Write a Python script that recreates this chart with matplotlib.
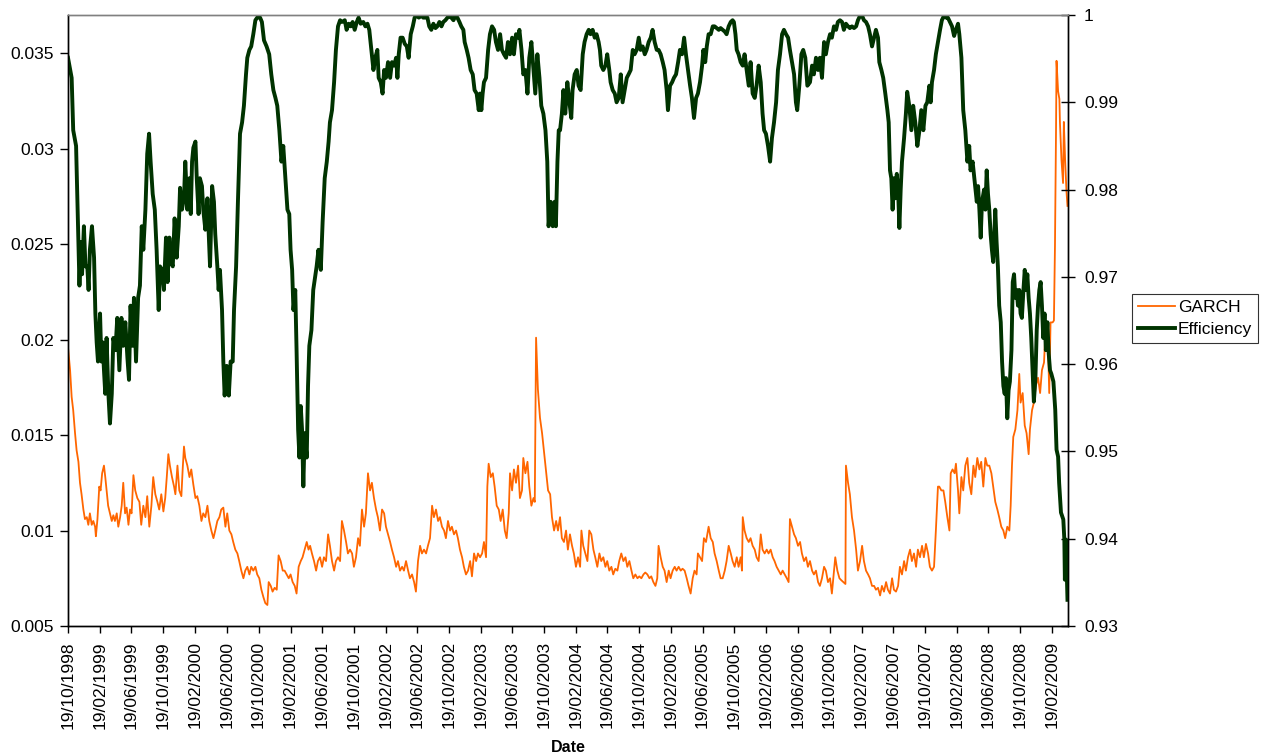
import pandas as pd
import matplotlib
matplotlib.use("Agg")
import matplotlib.pyplot as plt
import matplotlib.dates as mdates
from matplotlib.ticker import FuncFormatter, MultipleLocator

plt.rcParams["font.family"] = ["Liberation Sans", "DejaVu Sans"]

START = pd.Timestamp("1998-10-19")

# efficiency series (right axis), days after 19/10/1998
eff_days = [
    0, 14, 20, 31, 36, 44, 49, 54, 61, 67, 74, 79, 84, 92, 100, 105, 110, 115, 123, 128,
    133, 138, 143, 148, 155, 161, 168, 174, 182, 189, 197, 205, 212, 220, 228, 234, 240, 248, 253, 261,
    269, 276, 283, 289, 297, 304, 311, 317, 325, 333, 340, 348, 353, 361, 368, 376, 382, 389, 395, 402,
    409, 417, 425, 430, 437, 445, 450, 458, 466, 471, 476, 481, 489, 494, 501, 506, 514, 519, 527, 535,
    540, 545, 553, 560, 565, 573, 578, 583, 591, 596, 601, 609, 617, 624, 632, 637, 645, 652, 660, 668,
    675, 683, 688, 696, 703, 711, 719, 726, 737, 744, 752, 762, 772, 780, 788, 796, 803, 811, 819, 826,
    834, 842, 849, 854, 860, 865, 872, 877, 883, 888, 893, 898, 903, 908, 916, 921, 926, 934,
    941, 954, 961, 970, 977, 985, 993, 1000, 1005, 1013, 1021, 1028, 1036, 1044, 1051, 1062, 1069, 1077, 1085, 1092,
    1100, 1108, 1115, 1123, 1133, 1141, 1149, 1156, 1164, 1172, 1179, 1187, 1192, 1200, 1207, 1213, 1220, 1228, 1236, 1243,
    1251, 1259, 1264, 1269, 1276, 1284, 1292, 1300, 1307, 1315, 1323, 1330, 1338, 1346, 1356, 1363, 1371, 1379, 1386, 1394,
    1402, 1410, 1417, 1425, 1433, 1440, 1448, 1456, 1463, 1471, 1479, 1486, 1494, 1502, 1509, 1517, 1522, 1530, 1537, 1545,
    1553, 1560, 1568, 1576, 1581, 1586, 1591, 1596, 1604, 1612, 1619, 1627, 1635, 1642, 1650, 1658, 1665, 1673, 1681, 1688,
    1696, 1704, 1711, 1719, 1727, 1732, 1740, 1747, 1755, 1763, 1770, 1778, 1786, 1793, 1801, 1809, 1816, 1824, 1832, 1839,
    1844, 1852, 1860, 1867, 1872, 1878, 1883,
    1888, 1895, 1901, 1908, 1916, 1924, 1931, 1936, 1944, 1952, 1959, 1967, 1975, 1982, 1990, 1998, 2005, 2013, 2021, 2028,
    2036, 2041, 2046, 2054, 2062, 2069, 2077, 2082, 2090, 2098, 2105, 2113, 2121, 2128, 2136, 2144, 2151, 2159, 2167, 2174,
    2182, 2190, 2197, 2205, 2213, 2220, 2228, 2236, 2243, 2251, 2259, 2266, 2274, 2282, 2289, 2297, 2302, 2310, 2318, 2325,
    2333, 2341, 2348, 2356, 2364, 2371, 2379, 2387, 2394, 2402, 2410, 2417, 2425, 2433, 2438, 2445, 2451, 2458, 2466, 2474,
    2481, 2489, 2497, 2504, 2512, 2520, 2527, 2535, 2543, 2550, 2555, 2561, 2566, 2573, 2581, 2589, 2596, 2604, 2612, 2619,
    2627, 2635, 2642, 2650, 2658, 2665, 2671, 2678, 2686, 2694, 2701, 2709, 2717, 2724, 2732, 2740, 2747, 2755, 2763, 2770,
    2778, 2786, 2793, 2798, 2806, 2814, 2821, 2829, 2837,
    2847, 2855, 2862, 2870, 2878, 2885, 2893, 2901, 2908, 2916, 2924, 2931, 2939, 2947, 2954, 2962, 2970, 2977, 2985, 2993,
    3000, 3008, 3016, 3024, 3031, 3039, 3047, 3054, 3062, 3070, 3077, 3085, 3093, 3100, 3108, 3113, 3121, 3128, 3136, 3144,
    3149, 3154, 3159, 3164, 3169, 3174, 3180, 3185, 3190, 3195, 3200, 3208, 3215, 3220, 3228, 3236, 3243, 3251, 3259, 3267,
    3274, 3282, 3290, 3297, 3305, 3310, 3315, 3323, 3330, 3338, 3346, 3353, 3361, 3369, 3376, 3384, 3392, 3400, 3407, 3415,
    3420, 3428, 3435, 3443, 3451, 3458, 3463, 3471, 3479, 3487, 3492, 3497, 3502, 3507, 3515, 3520, 3525, 3530, 3535, 3540,
    3545, 3550, 3558, 3563, 3568, 3573, 3579, 3584, 3589, 3594, 3599, 3604, 3609, 3614, 3620, 3625, 3630, 3635, 3640, 3645,
    3650, 3655, 3660, 3666, 3671, 3676, 3681, 3686, 3691, 3696, 3701, 3706, 3712, 3717, 3722, 3727, 3732, 3737, 3742, 3747,
    3752, 3758, 3763, 3768, 3773, 3781, 3788, 3793, 3799, 3803, 3810, 3819, 3823, 3825, 3829, 3835,
]
eff_vals = [
    0.9951, 0.9928, 0.9868, 0.9850, 0.9790, 0.9690, 0.9740, 0.9703, 0.9758, 0.9712, 0.9712, 0.9685, 0.9731, 0.9758, 0.9722, 0.9658, 0.9625, 0.9603, 0.9658, 0.9603,
    0.9625, 0.9593, 0.9566, 0.9630, 0.9566, 0.9532, 0.9566, 0.9630, 0.9616, 0.9653, 0.9593, 0.9653, 0.9621, 0.9648, 0.9607, 0.9582, 0.9667, 0.9621, 0.9676, 0.9603,
    0.9676, 0.9690, 0.9758, 0.9731, 0.9777, 0.9841, 0.9864, 0.9832, 0.9795, 0.9777, 0.9731, 0.9662, 0.9712, 0.9708, 0.9685, 0.9745, 0.9694, 0.9745, 0.9717, 0.9712,
    0.9767, 0.9722, 0.9758, 0.9802, 0.9777, 0.9790, 0.9832, 0.9777, 0.9813, 0.9772, 0.9832, 0.9848, 0.9855, 0.9813, 0.9772, 0.9813, 0.9804, 0.9777, 0.9754, 0.9790,
    0.9749, 0.9712, 0.9804, 0.9786, 0.9749, 0.9712, 0.9685, 0.9708, 0.9662, 0.9603, 0.9564, 0.9598, 0.9564, 0.9603, 0.9603, 0.9662, 0.9712, 0.9786, 0.9864, 0.9877,
    0.9896, 0.9932, 0.9951, 0.9960, 0.9964, 0.9978, 0.9994, 0.9997, 0.9997, 0.9992, 0.9971, 0.9964, 0.9955, 0.9932, 0.9914, 0.9905, 0.9896, 0.9868, 0.9832, 0.9850,
    0.9813, 0.9777, 0.9772, 0.9731, 0.9708, 0.9662, 0.9685, 0.9616, 0.9525, 0.9493, 0.9552, 0.9525, 0.9460, 0.9521, 0.9493, 0.9575, 0.9621, 0.9639,
    0.9685, 0.9712, 0.9731, 0.9708, 0.9763, 0.9813, 0.9832, 0.9855, 0.9877, 0.9891, 0.9923, 0.9960, 0.9987, 0.9994, 0.9992, 0.9994, 0.9983, 0.9990, 0.9987, 0.9992,
    0.9983, 0.9992, 0.9997, 0.9990, 0.9992, 0.9987, 0.9990, 0.9983, 0.9960, 0.9937, 0.9951, 0.9960, 0.9928, 0.9923, 0.9910, 0.9937, 0.9928, 0.9946, 0.9928, 0.9946,
    0.9942, 0.9951, 0.9928, 0.9955, 0.9974, 0.9974, 0.9967, 0.9964, 0.9951, 0.9978, 0.9987, 0.9997, 0.9999, 0.9997, 0.9999, 0.9997, 0.9997, 0.9997, 0.9987, 0.9983,
    0.9990, 0.9985, 0.9987, 0.9992, 0.9987, 0.9992, 0.9994, 0.9997, 0.9999, 0.9997, 0.9994, 0.9999, 0.9997, 0.9992, 0.9987, 0.9983, 0.9969, 0.9960, 0.9951, 0.9937,
    0.9932, 0.9914, 0.9910, 0.9891, 0.9910, 0.9891, 0.9910, 0.9923, 0.9928, 0.9960, 0.9978, 0.9987, 0.9983, 0.9969, 0.9960, 0.9978, 0.9960, 0.9955, 0.9951, 0.9969,
    0.9955, 0.9974, 0.9955, 0.9978, 0.9974, 0.9983, 0.9960, 0.9932, 0.9937, 0.9910, 0.9951, 0.9969, 0.9937, 0.9910, 0.9955, 0.9928, 0.9896, 0.9887, 0.9868, 0.9832,
    0.9758, 0.9786, 0.9758, 0.9786, 0.9758, 0.9832, 0.9868,
    0.9868, 0.9887, 0.9914, 0.9887, 0.9923, 0.9900, 0.9882, 0.9914, 0.9932, 0.9937, 0.9919, 0.9914, 0.9955, 0.9969, 0.9978, 0.9983, 0.9978, 0.9983, 0.9974, 0.9978,
    0.9969, 0.9960, 0.9942, 0.9937, 0.9942, 0.9955, 0.9937, 0.9923, 0.9914, 0.9910, 0.9900, 0.9905, 0.9932, 0.9900, 0.9914, 0.9928, 0.9932, 0.9937, 0.9960, 0.9955,
    0.9960, 0.9974, 0.9960, 0.9964, 0.9955, 0.9960, 0.9969, 0.9974, 0.9983, 0.9969, 0.9960, 0.9960, 0.9955, 0.9946, 0.9937, 0.9914, 0.9891, 0.9919, 0.9923, 0.9928,
    0.9932, 0.9946, 0.9960, 0.9955, 0.9974, 0.9955, 0.9937, 0.9919, 0.9905, 0.9882, 0.9905, 0.9910, 0.9923, 0.9942, 0.9960, 0.9946, 0.9964, 0.9978, 0.9978, 0.9987,
    0.9987, 0.9985, 0.9983, 0.9985, 0.9983, 0.9981, 0.9978, 0.9987, 0.9992, 0.9994, 0.9992, 0.9978, 0.9960, 0.9955, 0.9946, 0.9942, 0.9955, 0.9937, 0.9919, 0.9946,
    0.9910, 0.9905, 0.9919, 0.9942, 0.9923, 0.9887, 0.9868, 0.9864, 0.9850, 0.9832, 0.9859, 0.9877, 0.9900, 0.9937, 0.9955, 0.9978, 0.9983, 0.9978, 0.9974, 0.9960,
    0.9946, 0.9932, 0.9900, 0.9891, 0.9919, 0.9955, 0.9960, 0.9951, 0.9919,
    0.9923, 0.9942, 0.9932, 0.9951, 0.9937, 0.9951, 0.9928, 0.9969, 0.9955, 0.9969, 0.9978, 0.9974, 0.9987, 0.9983, 0.9992, 0.9994, 0.9992, 0.9983, 0.9990, 0.9987,
    0.9985, 0.9987, 0.9985, 0.9987, 0.9994, 0.9999, 0.9999, 0.9994, 0.9992, 0.9987, 0.9978, 0.9964, 0.9974, 0.9983, 0.9974, 0.9946, 0.9937, 0.9928, 0.9910, 0.9891,
    0.9877, 0.9822, 0.9813, 0.9777, 0.9813, 0.9790, 0.9818, 0.9800, 0.9756, 0.9800, 0.9832, 0.9859, 0.9887, 0.9912, 0.9896, 0.9868, 0.9896, 0.9877, 0.9850, 0.9868,
    0.9891, 0.9868, 0.9896, 0.9900, 0.9919, 0.9900, 0.9923, 0.9937, 0.9955, 0.9969, 0.9983, 0.9994, 0.9999, 0.9997, 0.9997, 0.9992, 0.9987, 0.9976, 0.9983, 0.9990,
    0.9978, 0.9951, 0.9891, 0.9868, 0.9832, 0.9850, 0.9822, 0.9832, 0.9809, 0.9786, 0.9804, 0.9777, 0.9745, 0.9786, 0.9800, 0.9777, 0.9822, 0.9795, 0.9777, 0.9749,
    0.9731, 0.9717, 0.9777, 0.9740, 0.9712, 0.9667, 0.9648, 0.9603, 0.9575, 0.9566, 0.9584, 0.9538, 0.9570, 0.9580, 0.9616, 0.9694, 0.9703, 0.9676, 0.9685, 0.9667,
    0.9685, 0.9658, 0.9653, 0.9685, 0.9708, 0.9685, 0.9703, 0.9676, 0.9658, 0.9630, 0.9593, 0.9557, 0.9584, 0.9639, 0.9667, 0.9685, 0.9694, 0.9667, 0.9630, 0.9658,
    0.9616, 0.9648, 0.9612, 0.9593, 0.9589, 0.9580, 0.9548, 0.9502, 0.9494, 0.9464, 0.9430, 0.9422, 0.9399, 0.9353, 0.9399, 0.9330,
]

# GARCH volatility (left axis), days after 19/10/1998
garch_days = [
    0, 8, 14, 20, 27, 33, 40, 46, 52, 59, 65, 72, 78, 84, 91, 97, 104, 107, 113, 120,
    125, 131, 138, 143, 148, 154, 161, 168, 174, 180, 187, 193, 200, 206, 212, 219, 225, 232, 238, 244,
    251, 258, 266, 274, 281, 289, 297, 304, 312, 320, 327, 335, 343, 350, 358, 366, 373, 379, 385, 391,
    399, 407, 412, 420, 427, 435, 440, 445, 450, 458, 466, 473, 481, 489, 496, 504, 512, 519, 527, 535,
    542, 550, 558, 565, 573, 581, 588, 596, 604, 611, 619, 627, 634, 642, 650, 657, 665, 673, 680, 688,
    696, 703, 711, 719, 726, 734, 742, 750, 757, 765, 770, 778, 785, 793, 801, 808, 816, 824, 831, 839,
    847, 854, 862, 870, 877, 885, 893, 900, 908, 916, 923,
    929, 936, 944, 952, 959, 967, 975, 982, 990, 998, 1005, 1013, 1021, 1028, 1036, 1044, 1051, 1059, 1067, 1074,
    1082, 1090, 1097, 1105, 1113, 1120, 1128, 1136, 1143, 1151, 1159, 1166, 1174, 1182, 1189, 1197, 1205, 1213, 1220, 1228,
    1236, 1243, 1251, 1259, 1266, 1274, 1282, 1289, 1297, 1305, 1312, 1320, 1328, 1335, 1343, 1351, 1358, 1366, 1374, 1381,
    1389, 1397, 1404, 1412, 1420, 1427, 1435, 1443, 1450, 1458, 1466, 1473, 1481, 1489, 1496, 1504, 1512, 1519, 1527, 1535,
    1543, 1550, 1558, 1566, 1573, 1581, 1589, 1596, 1604, 1609, 1614, 1622, 1630, 1637, 1645, 1653, 1660, 1668, 1676, 1683,
    1691, 1696, 1704, 1711, 1719, 1727, 1734, 1742, 1747, 1755, 1763, 1770, 1778, 1786, 1791, 1796, 1803, 1811, 1819, 1826,
    1834, 1842, 1850, 1857, 1865, 1873, 1880,
    1888, 1895, 1903, 1911, 1918, 1926, 1934, 1941, 1949, 1957, 1965, 1970, 1977, 1985, 1993, 2000, 2008, 2016, 2023, 2031,
    2039, 2046, 2054, 2062, 2069, 2077, 2085, 2092, 2100, 2108, 2115, 2123, 2131, 2139, 2146, 2154, 2162, 2169, 2177, 2185,
    2192, 2200, 2208, 2215, 2223, 2231, 2238, 2246, 2254, 2261, 2266, 2274, 2282, 2289, 2297, 2305, 2312, 2320, 2328, 2335,
    2343, 2351, 2358, 2366, 2374, 2381, 2389, 2397, 2404, 2412, 2417, 2425, 2433, 2440, 2448, 2458, 2466, 2474, 2481, 2489,
    2497, 2504, 2512, 2520, 2527, 2535, 2543, 2550, 2558, 2566, 2573, 2581, 2586, 2589, 2596, 2604, 2612, 2619, 2627, 2635,
    2642, 2650, 2658, 2665, 2673, 2681, 2688, 2696, 2704, 2711, 2719, 2727, 2735, 2742, 2750, 2758, 2765, 2770, 2778, 2786,
    2793, 2801, 2809, 2816, 2824, 2832, 2839,
    2847, 2855, 2862, 2870, 2878, 2885, 2893, 2901, 2908, 2916, 2924, 2931, 2939, 2944, 2952, 2960, 2967, 2975, 2983, 2985,
    2993, 3000, 3008, 3016, 3024, 3031, 3039, 3047, 3054, 3062, 3070, 3077, 3085, 3093, 3100, 3108, 3116, 3123, 3131, 3139,
    3146, 3154, 3162, 3169, 3177, 3185, 3192, 3200, 3208, 3215, 3223, 3231, 3238, 3246, 3254, 3261, 3269, 3277, 3284, 3292,
    3300, 3307, 3315, 3323, 3330, 3338, 3343, 3351, 3359, 3366, 3374, 3382, 3387, 3394, 3402, 3407, 3415, 3420, 3428, 3435,
    3443, 3451, 3458, 3466, 3474, 3481, 3489, 3497, 3504, 3512, 3520, 3527, 3535, 3543, 3550, 3558, 3566, 3573, 3581, 3589,
    3596, 3604, 3612, 3617, 3622, 3627, 3635, 3643, 3650, 3655, 3663, 3671, 3678, 3686, 3691, 3699, 3706, 3714, 3722, 3730,
    3737, 3745, 3752, 3760, 3765, 3770, 3778, 3783, 3787, 3791, 3793, 3799, 3804, 3806, 3812, 3818, 3821, 3826, 3831, 3835,
]
garch_vals = [
    0.0196, 0.0184, 0.0170, 0.0163, 0.0151, 0.0142, 0.0136, 0.0125, 0.0119, 0.0111, 0.0106, 0.0107, 0.0103, 0.0109, 0.0103, 0.0105, 0.0102, 0.0097, 0.0106, 0.0123,
    0.0121, 0.0130, 0.0134, 0.0128, 0.0121, 0.0113, 0.0109, 0.0105, 0.0108, 0.0105, 0.0109, 0.0102, 0.0107, 0.0113, 0.0125, 0.0109, 0.0112, 0.0103, 0.0111, 0.0109,
    0.0129, 0.0121, 0.0117, 0.0115, 0.0103, 0.0113, 0.0107, 0.0118, 0.0102, 0.0113, 0.0128, 0.0119, 0.0115, 0.0111, 0.0119, 0.0110, 0.0117, 0.0128, 0.0140, 0.0134,
    0.0128, 0.0123, 0.0119, 0.0134, 0.0121, 0.0118, 0.0132, 0.0144, 0.0138, 0.0134, 0.0128, 0.0132, 0.0124, 0.0117, 0.0118, 0.0113, 0.0105, 0.0109, 0.0107, 0.0113,
    0.0105, 0.0100, 0.0096, 0.0100, 0.0105, 0.0107, 0.0111, 0.0112, 0.0102, 0.0109, 0.0100, 0.0098, 0.0094, 0.0090, 0.0088, 0.0084, 0.0079, 0.0075, 0.0079, 0.0081,
    0.0077, 0.0081, 0.0079, 0.0081, 0.0077, 0.0075, 0.0069, 0.0065, 0.0062, 0.0061, 0.0073, 0.0071, 0.0068, 0.0070, 0.0069, 0.0087, 0.0084, 0.0079, 0.0079, 0.0077,
    0.0075, 0.0077, 0.0073, 0.0071, 0.0067, 0.0081, 0.0084, 0.0086, 0.0090, 0.0094, 0.0090,
    0.0092, 0.0088, 0.0084, 0.0079, 0.0084, 0.0086, 0.0081, 0.0086, 0.0084, 0.0098, 0.0092, 0.0084, 0.0079, 0.0084, 0.0086, 0.0084, 0.0105, 0.0100, 0.0094, 0.0088,
    0.0090, 0.0088, 0.0081, 0.0086, 0.0096, 0.0092, 0.0111, 0.0102, 0.0109, 0.0130, 0.0121, 0.0125, 0.0117, 0.0111, 0.0107, 0.0100, 0.0111, 0.0109, 0.0102, 0.0098,
    0.0094, 0.0090, 0.0086, 0.0081, 0.0084, 0.0079, 0.0081, 0.0079, 0.0084, 0.0079, 0.0075, 0.0077, 0.0073, 0.0068, 0.0084, 0.0092, 0.0088, 0.0090, 0.0088, 0.0092,
    0.0096, 0.0113, 0.0107, 0.0111, 0.0105, 0.0107, 0.0102, 0.0100, 0.0096, 0.0105, 0.0100, 0.0102, 0.0098, 0.0100, 0.0096, 0.0090, 0.0086, 0.0081, 0.0077, 0.0079,
    0.0084, 0.0076, 0.0088, 0.0084, 0.0088, 0.0086, 0.0088, 0.0094, 0.0086, 0.0123, 0.0135, 0.0128, 0.0130, 0.0123, 0.0113, 0.0111, 0.0105, 0.0111, 0.0100, 0.0096,
    0.0109, 0.0130, 0.0121, 0.0132, 0.0125, 0.0134, 0.0117, 0.0121, 0.0138, 0.0130, 0.0136, 0.0123, 0.0113, 0.0117, 0.0115, 0.0201, 0.0174, 0.0159, 0.0151, 0.0142,
    0.0132, 0.0121, 0.0119, 0.0107, 0.0100, 0.0105, 0.0100,
    0.0107, 0.0096, 0.0094, 0.0100, 0.0090, 0.0098, 0.0092, 0.0088, 0.0081, 0.0086, 0.0081, 0.0100, 0.0092, 0.0088, 0.0084, 0.0100, 0.0098, 0.0090, 0.0086, 0.0081,
    0.0088, 0.0084, 0.0086, 0.0081, 0.0084, 0.0079, 0.0081, 0.0077, 0.0080, 0.0079, 0.0084, 0.0088, 0.0084, 0.0086, 0.0081, 0.0084, 0.0079, 0.0075, 0.0077, 0.0075,
    0.0076, 0.0075, 0.0077, 0.0078, 0.0077, 0.0075, 0.0076, 0.0073, 0.0071, 0.0075, 0.0092, 0.0086, 0.0081, 0.0079, 0.0073, 0.0079, 0.0075, 0.0079, 0.0081, 0.0079,
    0.0081, 0.0079, 0.0080, 0.0079, 0.0075, 0.0071, 0.0067, 0.0075, 0.0079, 0.0077, 0.0088, 0.0086, 0.0084, 0.0096, 0.0094, 0.0102, 0.0096, 0.0094, 0.0088, 0.0084,
    0.0079, 0.0075, 0.0075, 0.0079, 0.0084, 0.0092, 0.0088, 0.0084, 0.0081, 0.0086, 0.0081, 0.0086, 0.0079, 0.0107, 0.0100, 0.0096, 0.0094, 0.0096, 0.0092, 0.0090,
    0.0086, 0.0084, 0.0098, 0.0090, 0.0088, 0.0090, 0.0088, 0.0090, 0.0086, 0.0084, 0.0081, 0.0079, 0.0077, 0.0079, 0.0077, 0.0075, 0.0073, 0.0106, 0.0102, 0.0098,
    0.0096, 0.0092, 0.0094, 0.0088, 0.0084, 0.0086, 0.0081,
    0.0084, 0.0079, 0.0077, 0.0079, 0.0073, 0.0071, 0.0075, 0.0081, 0.0079, 0.0073, 0.0075, 0.0067, 0.0079, 0.0086, 0.0079, 0.0075, 0.0074, 0.0073, 0.0072, 0.0134,
    0.0125, 0.0119, 0.0107, 0.0100, 0.0090, 0.0079, 0.0084, 0.0092, 0.0084, 0.0079, 0.0077, 0.0075, 0.0071, 0.0071, 0.0069, 0.0070, 0.0066, 0.0071, 0.0068, 0.0073,
    0.0069, 0.0067, 0.0075, 0.0069, 0.0068, 0.0071, 0.0081, 0.0077, 0.0084, 0.0079, 0.0086, 0.0090, 0.0084, 0.0088, 0.0081, 0.0090, 0.0086, 0.0092, 0.0086, 0.0093,
    0.0088, 0.0081, 0.0079, 0.0081, 0.0100, 0.0123, 0.0123, 0.0121, 0.0121, 0.0115, 0.0107, 0.0100, 0.0130, 0.0132, 0.0130, 0.0135, 0.0121, 0.0109, 0.0128, 0.0121,
    0.0134, 0.0138, 0.0125, 0.0119, 0.0134, 0.0128, 0.0138, 0.0132, 0.0136, 0.0123, 0.0138, 0.0134, 0.0134, 0.0130, 0.0123, 0.0115, 0.0111, 0.0107, 0.0102, 0.0100,
    0.0096, 0.0102, 0.0100, 0.0113, 0.0134, 0.0149, 0.0153, 0.0163, 0.0182, 0.0167, 0.0172, 0.0155, 0.0151, 0.0140, 0.0153, 0.0163, 0.0167, 0.0176, 0.0180, 0.0172,
    0.0184, 0.0188, 0.0209, 0.0199, 0.0172, 0.0209, 0.0209, 0.0210, 0.0249, 0.0309, 0.0346, 0.0330, 0.0326, 0.0314, 0.0294, 0.0282, 0.0314, 0.0294, 0.0278, 0.0270,
]

ORANGE = "#FF6600"
GREEN = "#003300"

eff_dates = START + pd.to_timedelta(eff_days, unit="D")
garch_dates = START + pd.to_timedelta(garch_days, unit="D")

fig = plt.figure(figsize=(12.62, 7.53), dpi=100)
ax = fig.add_axes([68 / 1262, 1 - 626 / 753, 1000 / 1262, 611 / 753])
ax2 = ax.twinx()

l1, = ax.plot(garch_dates, garch_vals, color=ORANGE, lw=1.3, label="GARCH")
l2, = ax2.plot(eff_dates, eff_vals, color=GREEN, lw=2.8, label="Efficiency")

ax.set_xlim(START, START + pd.Timedelta(days=3837))
ax.set_ylim(0.005, 0.037)
ax2.set_ylim(0.93, 1.0)

ax.yaxis.set_major_locator(MultipleLocator(0.005))
ax2.yaxis.set_major_locator(MultipleLocator(0.01))
fmt = FuncFormatter(lambda v, p: "{:g}".format(round(v, 4)))
ax.yaxis.set_major_formatter(fmt)
ax2.yaxis.set_major_formatter(fmt)

ax.xaxis.set_major_locator(mdates.MonthLocator(bymonth=(2, 6, 10), bymonthday=19))
ax.xaxis.set_major_formatter(mdates.DateFormatter("%d/%m/%Y"))
for lab in ax.get_xticklabels():
    lab.set_rotation(90)

ax.tick_params(axis="y", direction="out", length=6, width=1, labelsize=12.5, pad=4)
ax.tick_params(axis="x", direction="out", length=5, width=1, labelsize=12.5, pad=6)
ax2.tick_params(axis="y", direction="inout", length=10, width=1, labelsize=12.5, pad=6.5)

for a in (ax, ax2):
    a.spines["top"].set_color("#808080")
    a.spines["top"].set_linewidth(1.0)
    for s in ("left", "right", "bottom"):
        a.spines[s].set_color("black")
        a.spines[s].set_linewidth(1.0)

ax.set_xlabel("Date", fontsize=11.5, fontweight="bold", labelpad=8)

leg = fig.legend(handles=[l1, l2], loc="upper left", bbox_to_anchor=(1132 / 1262, 1 - 294 / 753),
                 fontsize=12.5, frameon=True, fancybox=False, edgecolor="black",
                 handlelength=2.1, handletextpad=0.2, labelspacing=0.4,
                 borderpad=0.35, borderaxespad=0)
leg.get_frame().set_linewidth(0.8)

fig.savefig("out.png", dpi=100)
